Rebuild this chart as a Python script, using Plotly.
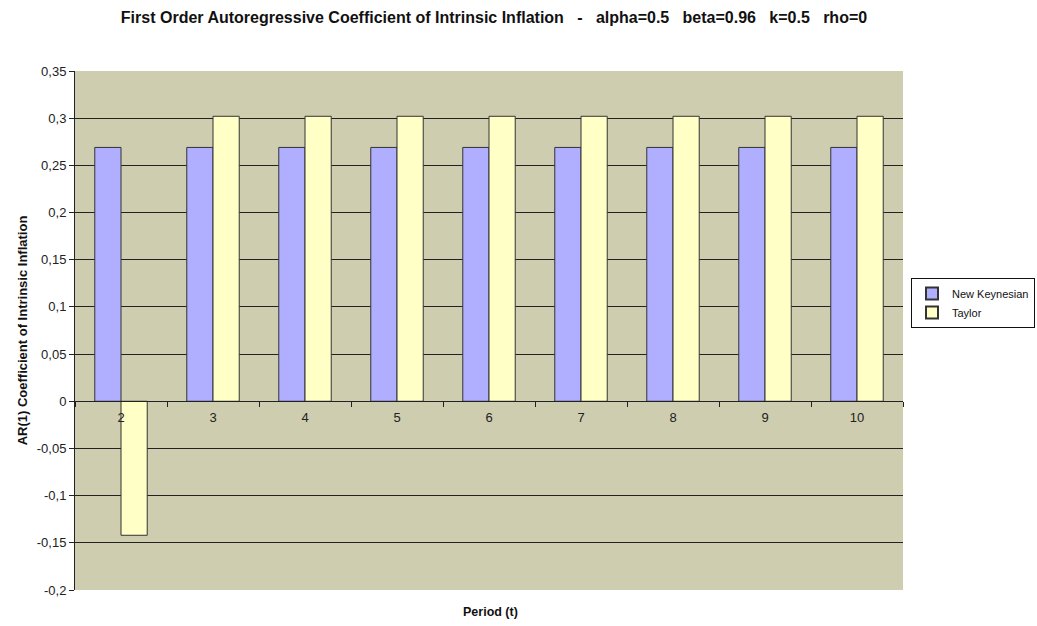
import plotly.graph_objects as go

periods = ["2", "3", "4", "5", "6", "7", "8", "9", "10"]
new_keynesian = [0.269, 0.269, 0.269, 0.269, 0.269, 0.269, 0.269, 0.269, 0.269]
taylor = [-0.142, 0.302, 0.302, 0.302, 0.302, 0.302, 0.302, 0.302, 0.302]
y_ticks = [0.35, 0.3, 0.25, 0.2, 0.15, 0.1, 0.05, 0, -0.05, -0.1, -0.15, -0.2]
y_tick_labels = ["0,35", "0,3", "0,25", "0,2", "0,15", "0,1", "0,05", "0", "-0,05", "-0,1", "-0,15", "-0,2"]

y_min, y_max = -0.2, 0.35

fig = go.Figure()
fig.add_trace(go.Bar(x=periods, y=new_keynesian, name="New Keynesian",
                     marker=dict(color="#B0AEFF", line=dict(color="#333333", width=1))))
fig.add_trace(go.Bar(x=periods, y=taylor, name="Taylor",
                     marker=dict(color="#FFFFC6", line=dict(color="#333333", width=1))))

zero_pos = (0 - y_min) / (y_max - y_min)

W, H = 1037, 626
L, R, T, B = 75, 134, 71, 36
plot_w = W - L - R
plot_h = H - T - B

fig.update_layout(
    width=W, height=H,
    margin=dict(l=L, r=R, t=T, b=B, autoexpand=False),
    paper_bgcolor="white",
    plot_bgcolor="#CFCDAF",
    barmode="group",
    bargap=0.43,
    bargroupgap=0,
    font=dict(family="Arial, Liberation Sans, sans-serif", size=13, color="#222222"),
    title=dict(text="<b>First Order Autoregressive Coefficient of Intrinsic Inflation   -   alpha=0.5   beta=0.96   k=0.5   rho=0</b>",
               x=494 / W, xanchor="center", y=1 - 17 / H, yanchor="middle",
               font=dict(size=16, color="#111111")),
    xaxis=dict(type="category", anchor="free", position=zero_pos,
               showline=True, linecolor="#222222", linewidth=1,
               ticks="outside", tickson="boundaries", ticklen=5, tickcolor="#222222",
               ticklabelstandoff=4,
               showgrid=False, tickfont=dict(size=13, color="#222222")),
    yaxis=dict(range=[y_min, y_max], tickvals=y_ticks, ticktext=y_tick_labels,
               showline=True, linecolor="#222222", linewidth=1,
               ticks="outside", ticklen=5, tickcolor="#222222",
               showgrid=True, gridcolor="#222222", gridwidth=1,
               zeroline=False,
               tickfont=dict(size=13, color="#222222"),
               title=dict(text="<b>AR(1) Coefficient of Intrinsic Inflation</b>",
                          font=dict(size=13, color="#111111"), standoff=6)),
    legend=dict(x=(911 - L) / plot_w, y=0.553, xanchor="left", yanchor="middle",
                bordercolor="#111111", borderwidth=1, bgcolor="white",
                font=dict(size=11, color="#111111"),
                itemsizing="constant", tracegroupgap=0, itemwidth=30),
    showlegend=True,
)

fig.add_annotation(text="<b>Period (t)</b>", xref="paper", yref="paper",
                   x=(490 - L) / plot_w, y=-0.025, xanchor="center", yanchor="top",
                   showarrow=False, font=dict(size=12.5, color="#111111"))

# remove the default page margin so the figure fills the window exactly
fig.write_html(
    "out.html",
    config={"displayModeBar": False},
    post_script="document.body.style.margin='0';document.body.style.overflow='hidden';"
                "document.documentElement.style.overflow='hidden';",
)
